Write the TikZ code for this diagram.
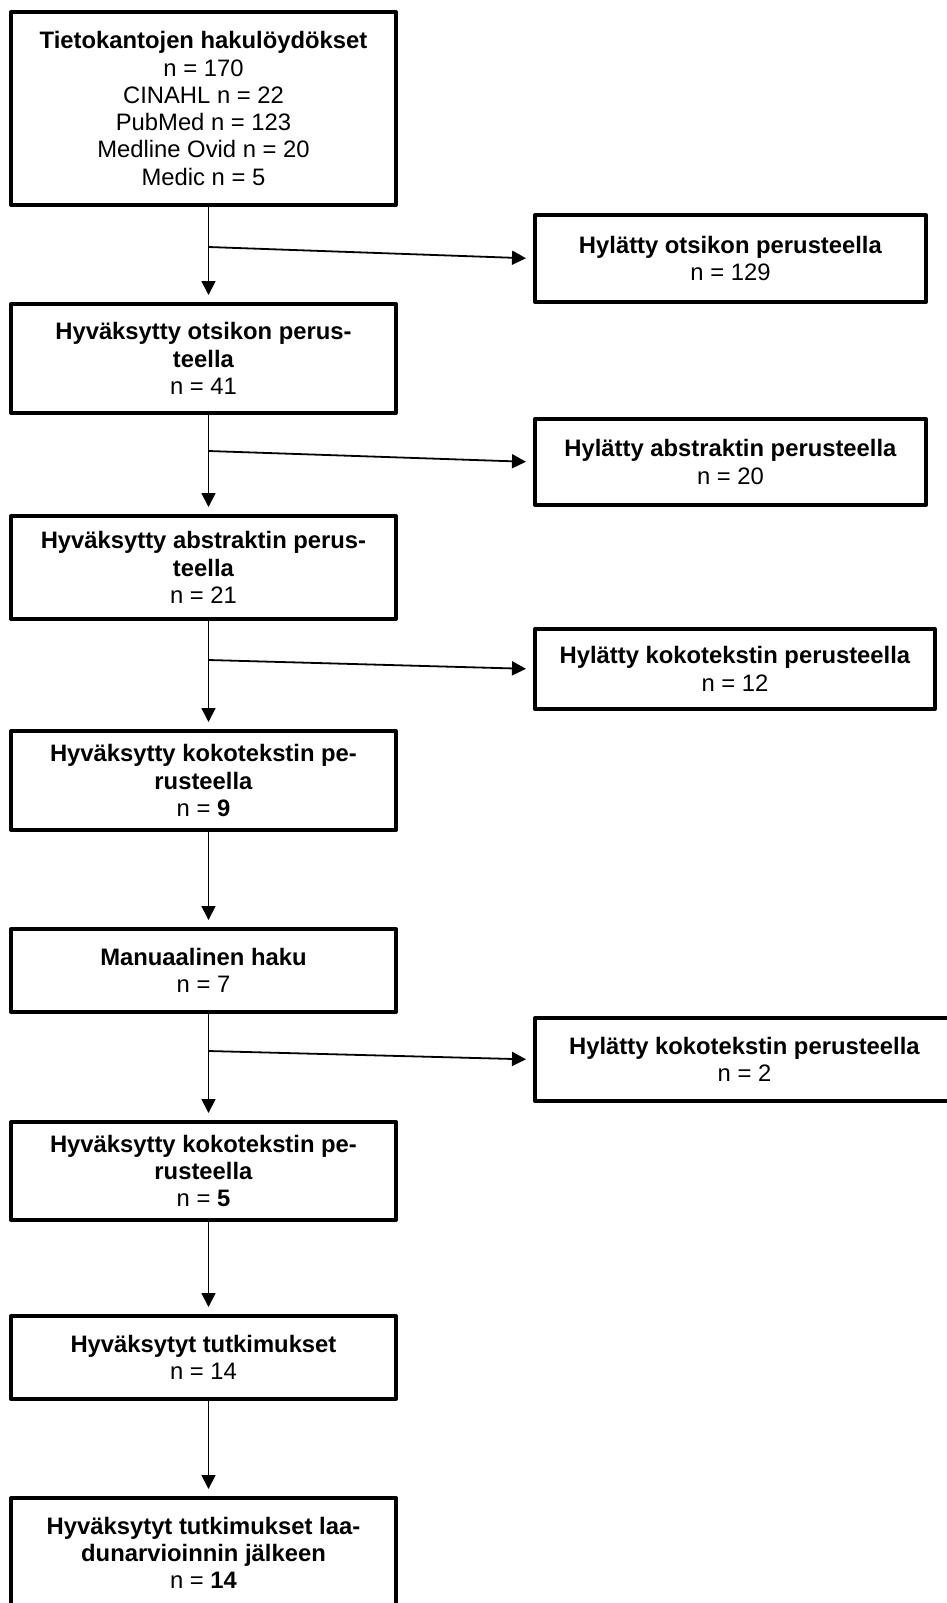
\documentclass[tikz,border=0pt]{standalone}
\usepackage{fontspec}
\setmainfont{Liberation Sans}
\usetikzlibrary{arrows.meta,calc}
\begin{document}
\begin{tikzpicture}[x=1pt,y=-1pt,
  box/.style={draw,line width=4pt,line join=round,fill=white,inner sep=0pt,align=center,
    font=\fontsize{23.8}{27.3}\selectfont},
  conn/.style={line width=1.8pt,-{Triangle[length=14pt,width=14pt]},shorten >=7pt}]
\fill[white] (0,0) rectangle (947,1603);
\useasboundingbox (0,0) rectangle (947,1603);
\coordinate (spine) at (208.5,0);
% main column
\node[box,minimum width=385pt,minimum height=193pt] (b1) at (203.5,108.5)
  {\textbf{Tietokantojen hakulöydökset}\\n = 170\\CINAHL n = 22\\PubMed n = 123\\Medline Ovid n = 20\\Medic n = 5};
\node[box,minimum width=385pt,minimum height=109pt] (b2) at (203.5,358.5)
  {\textbf{Hyväksytty otsikon perus-}\\\textbf{teella}\\n = 41};
\node[box,minimum width=385pt,minimum height=103pt] (b3) at (203.5,567.5)
  {\textbf{Hyväksytty abstraktin perus-}\\\textbf{teella}\\n = 21};
\node[box,minimum width=385pt,minimum height=99pt] (b4) at (203.5,780.5)
  {\textbf{Hyväksytty kokotekstin pe-}\\\textbf{rusteella}\\n = \textbf{9}};
\node[box,minimum width=385pt,minimum height=83pt] (b5) at (203.5,970.5)
  {\textbf{Manuaalinen haku}\\n = 7};
\node[box,minimum width=385pt,minimum height=98pt] (b6) at (203.5,1171)
  {\textbf{Hyväksytty kokotekstin pe-}\\\textbf{rusteella}\\n = \textbf{5}};
\node[box,minimum width=385pt,minimum height=83pt] (b7) at (203.5,1357.5)
  {\textbf{Hyväksytyt tutkimukset}\\n = 14};
\node[box,minimum width=385pt,minimum height=110pt] (b8) at (203.5,1553)
  {\textbf{Hyväksytyt tutkimukset laa-}\\\textbf{dunarvioinnin jälkeen}\\n = \textbf{14}};
% right column
\node[box,minimum width=391pt,minimum height=87pt] (r1) at (730.5,258.5)
  {\textbf{Hylätty otsikon perusteella}\\n = 129};
\node[box,minimum width=391pt,minimum height=86pt] (r2) at (730.5,462)
  {\textbf{Hylätty abstraktin perusteella}\\n = 20};
\node[box,minimum width=400pt,minimum height=80pt] (r3) at (735,669)
  {\textbf{Hylätty kokotekstin perusteella}\\n = 12};
\node[box,minimum width=419pt,minimum height=83pt] (r4) at (744.5,1059.5)
  {\textbf{Hylätty kokotekstin perusteella}\\n = 2};
% junctions
\coordinate (j1) at (208.5,247);
\coordinate (j2) at (208.5,451);
\coordinate (j3) at (208.5,660);
\coordinate (j4) at (208.5,1051);
% main connectors
\draw[conn] (b1.south -| spine) -- (b2.north -| spine);
\draw[conn] (b2.south -| spine) -- (b3.north -| spine);
\draw[conn] (b3.south -| spine) -- (b4.north -| spine);
\draw[conn] (b4.south -| spine) -- (b5.north -| spine);
\draw[conn] (b5.south -| spine) -- (b6.north -| spine);
\draw[conn] (b6.south -| spine) -- (b7.north -| spine);
\draw[conn] (b7.south -| spine) -- (b8.north -| spine);
% branch connectors
\draw[conn] (j1) -- (r1.west);
\draw[conn] (j2) -- (r2.west);
\draw[conn] (j3) -- (r3.west);
\draw[conn] (j4) -- (r4.west);
\end{tikzpicture}
\end{document}
